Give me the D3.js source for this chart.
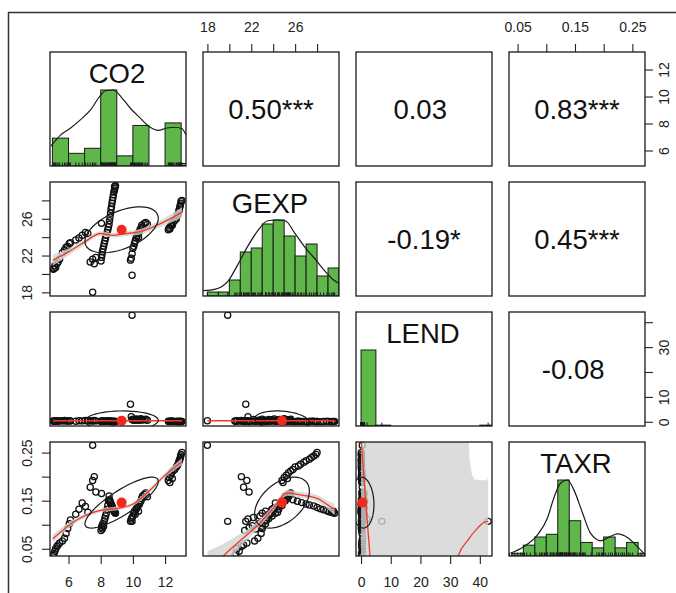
<!DOCTYPE html>
<html>
<head>
<meta charset="utf-8">
<script src="https://cdn.jsdelivr.net/npm/d3@7"></script>
<style>
  body { margin: 0; background: #fff; }
  svg text { font-family: "Liberation Sans", Arial, sans-serif; }
</style>
</head>
<body>
<svg id="chart" width="676" height="593"></svg>
<script>
// ---- data ----
var names = ["CO2", "GEXP", "LEND", "TAXR"];

var co2 = [5.05, 5.10, 5.15, 5.20, 5.28, 5.35, 5.45, 5.62, 5.75, 5.85, 5.95, 6.05, 6.12, 6.45, 6.65, 6.85, 7.05, 7.20,
  7.35, 7.50, 7.60, 7.70, 7.50,
  8.02, 8.05, 8.08, 8.10, 8.14, 8.18, 8.22, 8.26, 8.30, 8.35, 8.40, 8.44, 8.48, 8.52, 8.05,
  8.55, 8.58, 8.61, 8.64, 8.67, 8.70, 8.73, 8.76, 8.79, 8.82, 8.85, 8.87, 8.89, 8.92, 8.86,
  9.85, 9.90, 9.95, 9.95, 10.00, 10.05, 10.10, 10.15, 10.20, 10.25, 10.30, 10.35, 10.40, 10.45, 10.50, 10.55, 10.60, 10.70, 10.80, 10.90,
  12.20, 12.25, 12.30, 12.35, 12.40, 12.45, 12.50, 12.60, 12.70, 12.75, 12.80, 12.85, 12.88, 12.92, 12.95, 12.97, 12.99, 13.05];
var gexp = [20.5, 20.6, 20.9, 20.7, 21.1, 21.3, 21.6, 22.3, 22.6, 22.9, 23.0, 23.3, 23.4, 23.7, 23.9, 24.2, 24.5, 24.4,
  21.3, 21.6, 21.1, 21.8, 18.0,
  21.4, 21.8, 22.1, 22.4, 22.7, 23.0, 23.3, 23.6, 23.9, 24.2, 24.5, 24.8, 25.1, 25.4, 25.5,
  25.8, 26.2, 26.6, 27.0, 27.3, 27.7, 28.0, 28.3, 28.6, 28.9, 29.1, 29.3, 29.45, 29.6, 29.5,
  21.5, 21.7, 19.85, 22.2, 22.8, 23.0, 23.3, 23.6, 23.9, 24.1, 24.4, 24.0, 24.6, 24.8, 25.0, 25.3, 25.1, 25.5, 25.6, 25.4,
  24.8, 25.0, 24.9, 25.2, 25.4, 25.3, 25.6, 25.8, 26.0, 26.3, 26.5, 26.8, 27.0, 27.3, 27.5, 27.7, 27.9, 28.0];
var lend = [0.30, 0.15, 0.35, 0.45, 0.25, 0.20, 0.40, 0.30, 0.50, 0.35, 0.25, 0.45, 0.30, 0.20, 0.40, 0.35, 0.50, 0.30,
  0.40, 0.30, 0.55, 0.35, 0.40,
  0.20, 0.10, 0.25, 0.15, 0.30, 0.20, 0.10, 0.25, 0.35, 0.20, 0.15, 0.30, 0.25, 0.40, 0.30,
  0.10, 0.20, 0.15, 0.05, 0.10, 0.20, 0.15, 0.05, 0.10, 0.20, 0.15, 0.05, 0.10, 0.15, 0.05,
  7.0, 2.0, 42.8, 0.90, 0.70, 1.00, 0.60, 0.90, 0.80, 1.10, 0.70, 0.60, 0.90, 0.80, 1.20, 0.70, 0.90, 0.80, 1.00, 0.60,
  0.20, 0.10, 0.25, 0.15, 0.30, 0.10, 0.20, 0.15, 0.05, 0.20, 0.10, 0.15, 0.05, 0.10, 0.20, 0.15, 0.05, 0.10];
var taxr = [0.036, 0.040, 0.045, 0.050, 0.055, 0.058, 0.062, 0.066, 0.072, 0.082, 0.092, 0.102, 0.110, 0.122, 0.132, 0.145, 0.138, 0.126,
  0.178, 0.192, 0.200, 0.168, 0.265,
  0.088, 0.094, 0.098, 0.091, 0.102, 0.097, 0.108, 0.113, 0.118, 0.124, 0.132, 0.140, 0.150, 0.160, 0.165,
  0.152, 0.149, 0.146, 0.143, 0.141, 0.139, 0.136, 0.133, 0.131, 0.129, 0.127, 0.126, 0.125, 0.124, 0.128,
  0.107, 0.112, 0.107, 0.115, 0.118, 0.124, 0.128, 0.122, 0.132, 0.135, 0.138, 0.128, 0.142, 0.147, 0.150, 0.155, 0.160, 0.163, 0.166, 0.158,
  0.192, 0.198, 0.188, 0.203, 0.208, 0.196, 0.212, 0.215, 0.220, 0.222, 0.226, 0.230, 0.233, 0.236, 0.240, 0.243, 0.246, 0.250];

var ranges = [[4.85, 13.3], [17.6, 30.0], [-1.7, 44.1], [0.035, 0.272]];
var means = [9.3, 24.8, 0.45, 0.146];
var sds = [2.28, 2.5, 3.9, 0.053];

// upper triangle: pairs, correlation, stars
var corrPairs = [[0, 1], [0, 2], [0, 3], [1, 2], [1, 3], [2, 3]];
var corrValues = [0.50, 0.03, 0.83, -0.19, 0.45, -0.08];
var corrStars = ["***", " ", "***", "*", "***", " "];

// histograms: first break, bin width, counts
var histStart = [5, 18, 0, 0.04];
var histWidth = [1, 1, 5, 0.02];
var co2Counts = [11, 5, 7, 30, 4, 16, 0, 17, 1];
var gexpCounts = [1, 1, 4, 11, 12, 18, 19, 15, 10, 13, 5, 7];
var lendCounts = [89, 1, 0, 0, 0, 0, 0, 0, 1];
var taxrCounts = [1, 4, 7, 8, 28, 13, 5, 3, 7, 3, 5, 1];

// density curves (scaled to max 1)
var co2Dens = [[4.9, 0.26], [5.52, 0.41], [6.13, 0.5], [6.75, 0.61], [7.37, 0.74], [7.99, 0.93], [8.3, 0.99], [8.79, 1.0],
  [9.34, 0.89], [9.84, 0.76], [10.46, 0.63], [11.07, 0.51], [11.57, 0.47], [12.12, 0.5], [12.62, 0.51], [13.05, 0.49], [13.3, 0.41]];
var gexpDens = [[17.64, 0.07], [18.73, 0.09], [19.9, 0.2], [20.8, 0.42], [21.7, 0.66], [22.6, 0.86], [23.5, 0.99], [24.4, 1.0],
  [25.1, 0.99], [26.0, 0.82], [26.9, 0.64], [27.8, 0.49], [28.7, 0.33], [29.6, 0.2], [30.1, 0.16]];
var taxrDens = [[0.038, 0.04], [0.06, 0.12], [0.085, 0.28], [0.102, 0.5], [0.113, 0.76], [0.125, 0.96], [0.137, 1.0], [0.148, 0.87],
  [0.163, 0.57], [0.177, 0.3], [0.195, 0.2], [0.212, 0.26], [0.224, 0.29], [0.242, 0.24], [0.259, 0.12], [0.273, 0.01]];

// loess smoothers: [x, fit, band half width]
var smoothCo2Gexp = [[5.02, 21.5, 0.6], [5.95, 22.35, 0.4], [6.94, 23.4, 0.3], [8.0, 24.4, 0.25], [8.8, 24.2, 0.25],
  [9.65, 24.4, 0.28], [10.46, 24.6, 0.3], [11.5, 25.3, 0.35], [13.05, 26.7, 0.55]];
var smoothCo2Lend = [[5.05, 0.4, 0], [13.05, 0.4, 0]];
var smoothGexpLend = [[18.0, 0.4, 0], [29.6, 0.4, 0]];
var smoothCo2Taxr = [[5.02, 0.071, 0.008], [6.57, 0.111, 0.005], [8.0, 0.13, 0.004], [9.04, 0.134, 0.004], [10.02, 0.143, 0.004],
  [11.07, 0.172, 0.005], [11.87, 0.199, 0.005], [13.05, 0.231, 0.007]];
var smoothGexpTaxr = [[18.0, 0.0, 0.045], [19.45, 0.035, 0.025], [21.0, 0.067, 0.014], [22.55, 0.098, 0.008], [24.0, 0.134, 0.006],
  [25.27, 0.166, 0.006], [26.45, 0.162, 0.006], [28.0, 0.155, 0.007], [29.45, 0.134, 0.011], [29.6, 0.132, 0.012]];
var smoothLendTaxr = [[0, 0.28, 0], [1.5, 0.155, 0], [3.2, 0.02, 0], [10, -0.3, 0], [20, -0.45, 0], [28, -0.2, 0],
  [32.6, 0.033, 0], [36, 0.068, 0], [39.4, 0.094, 0], [41.7, 0.106, 0], [42.8, 0.107, 0]];
var bandLendTaxr = [[0, -0.1], [0, 0.35], [36.0, 0.35], [36.5, 0.24], [37.3, 0.205], [38.2, 0.194], [41.5, 0.192],
  [42.8, 0.195], [42.8, -0.1]];

// axis ticks and which of them carry labels
var gexpTicks = [18, 20, 22, 24, 26, 28], gexpLabels = [18, 22, 26];
var taxrTicks = [0.05, 0.10, 0.15, 0.20, 0.25], taxrLabels = [0.05, 0.15, 0.25];
var co2Ticks = [6, 8, 10, 12], co2Labels = [6, 8, 10, 12];
var lendTicks = [0, 10, 20, 30, 40], lendRightLabels = [0, 10, 30], lendBottomLabels = [0, 10, 20, 30, 40];

// ---- drawing ----
var svg = d3.select("#chart");
var data = [co2, gexp, lend, taxr];
var counts = [co2Counts, gexpCounts, lendCounts, taxrCounts];
var dens = [co2Dens, gexpDens, null, taxrDens];
var smooths = {"1-0": smoothCo2Gexp, "2-0": smoothCo2Lend, "2-1": smoothGexpLend,
  "3-0": smoothCo2Taxr, "3-1": smoothGexpTaxr, "3-2": smoothLendTaxr};

var colX = [50, 203, 356, 509], rowY = [52, 182, 312, 442];
var pw = 136, ph = 114;
var ink = "#1a1a1a", green = "#5fb749", red = "#f0281e", lineRed = "#ee3b24";

var sx = ranges.map(function(r) { return d3.scaleLinear().domain(r).range([0, pw]); });
var sy = ranges.map(function(r) { return d3.scaleLinear().domain(r).range([ph, 0]); });
var hy = d3.scaleLinear().domain([0, 1.5]).range([ph, 0]);

// frame of the figure
svg.append("line").attr("x1", 8).attr("x2", 676).attr("y1", 12.5).attr("y2", 12.5).attr("stroke", "#333").attr("stroke-width", 1.5);
svg.append("line").attr("x1", 8.5).attr("x2", 8.5).attr("y1", 12).attr("y2", 593).attr("stroke", "#333").attr("stroke-width", 1.5);

var defs = svg.append("defs");

function ellipsePts(xm, ym, xs, ys, r) {
  var t = Math.abs(r) > 0 ? Math.sign(r) / Math.SQRT2 : 1 / Math.SQRT2;
  var a = Math.sqrt(1 + r) * t, b = Math.sqrt(1 - r) * t;
  return d3.range(52).map(function(k) {
    var ang = k * 2 * Math.PI / 51, c = Math.cos(ang), s = Math.sin(ang);
    return [(c * a - s * b) * xs + xm, (c * a + s * b) * ys + ym];
  });
}

function corrIndex(i, j) {
  var a = Math.min(i, j), b = Math.max(i, j);
  for (var k = 0; k < corrPairs.length; k++) if (corrPairs[k][0] == a && corrPairs[k][1] == b) return k;
}

for (var i = 0; i < 4; i++) {
  for (var j = 0; j < 4; j++) {
    var id = "clip-" + i + "-" + j;
    defs.append("clipPath").attr("id", id).append("rect").attr("width", pw).attr("height", ph);
    var g = svg.append("g").attr("transform", "translate(" + colX[j] + "," + rowY[i] + ")");
    var inner = g.append("g").attr("clip-path", "url(#" + id + ")");
    var X = sx[j], Y = sy[i];

    if (i == j) {
      // histogram
      var cnt = counts[i], mx = d3.max(cnt);
      inner.selectAll("rect.bar").data(cnt).enter().append("rect")
        .attr("class", "bar")
        .attr("x", function(d, k) { return X(histStart[i] + k * histWidth[i]); })
        .attr("width", function(d, k) { return X(histStart[i] + (k + 1) * histWidth[i]) - X(histStart[i] + k * histWidth[i]); })
        .attr("y", function(d) { return hy(d / mx); })
        .attr("height", function(d) { return ph - hy(d / mx); })
        .attr("fill", green).attr("stroke", ink).attr("stroke-width", 1);
      if (dens[i]) {
        inner.append("path").datum(dens[i])
          .attr("d", d3.line().x(function(d) { return X(d[0]); }).y(function(d) { return hy(d[1]); }).curve(d3.curveMonotoneX))
          .attr("fill", "none").attr("stroke", ink).attr("stroke-width", 1.2);
      }
      // rug
      inner.selectAll("line.rug").data(data[i]).enter().append("line")
        .attr("x1", function(d) { return X(d); }).attr("x2", function(d) { return X(d); })
        .attr("y1", ph).attr("y2", ph - 3.5)
        .attr("stroke", ink).attr("stroke-width", 1);
      g.append("text").attr("x", pw / 2 - 1).attr("y", 31).attr("text-anchor", "middle")
        .attr("font-size", 27.5).attr("fill", "#111").text(names[i]);
    } else if (i < j) {
      var k = corrIndex(i, j);
      g.append("text").attr("x", pw / 2).attr("y", ph / 2 + 10).attr("text-anchor", "middle")
        .attr("font-size", 27.5).attr("fill", "#111").style("white-space", "pre")
        .text(corrValues[k].toFixed(2) + corrStars[k]);
    } else {
      var xs = data[j], ys = data[i];
      inner.selectAll("circle.pt").data(xs).enter().append("circle")
        .attr("class", "pt")
        .attr("cx", function(d) { return X(d); })
        .attr("cy", function(d, n) { return Y(ys[n]); })
        .attr("r", 3.1).attr("fill", "none").attr("stroke", "#111").attr("stroke-width", 1.25);

      var sm = smooths[i + "-" + j];
      if (i == 3 && j == 2) {
        inner.append("path").datum(bandLendTaxr)
          .attr("d", d3.line().x(function(d) { return X(d[0]); }).y(function(d) { return Y(d[1]); }))
          .attr("fill", "#d3d3d3").attr("fill-opacity", 0.8);
      } else if (d3.max(sm, function(d) { return d[2]; }) > 0) {
        inner.append("path").datum(sm)
          .attr("d", d3.area().x(function(d) { return X(d[0]); })
            .y0(function(d) { return Y(d[1] - d[2]); }).y1(function(d) { return Y(d[1] + d[2]); })
            .curve(d3.curveMonotoneX))
          .attr("fill", "#d3d3d3").attr("fill-opacity", 0.8);
      }
      inner.append("path").datum(sm)
        .attr("d", d3.line().x(function(d) { return X(d[0]); }).y(function(d) { return Y(d[1]); }).curve(d3.curveMonotoneX))
        .attr("fill", "none").attr("stroke", lineRed).attr("stroke-width", 1.3);

      var r = corrValues[corrIndex(i, j)];
      inner.append("path").datum(ellipsePts(means[j], means[i], sds[j], sds[i], r))
        .attr("d", d3.line().x(function(d) { return X(d[0]); }).y(function(d) { return Y(d[1]); }))
        .attr("fill", "none").attr("stroke", ink).attr("stroke-width", 1.2);
      inner.append("circle").attr("cx", X(means[j])).attr("cy", Y(means[i])).attr("r", 5).attr("fill", red);
    }

    g.append("rect").attr("width", pw).attr("height", ph)
      .attr("fill", "none").attr("stroke", ink).attr("stroke-width", 1.3);
  }
}

// axes
function styleAxis(a) {
  a.select(".domain").remove();
  a.attr("font-size", 14).attr("font-family", "Liberation Sans, Arial, sans-serif").attr("color", "#222");
  a.selectAll("line").attr("stroke-width", 1.1);
}
function labelFmt(labels, fmt) {
  return function(d) { return labels.indexOf(d) >= 0 ? fmt(d) : ""; };
}
var fInt = d3.format("d"), f2 = d3.format(".2f");

function topAxis(col, ticks, labels, fmt) {
  var a = svg.append("g").attr("transform", "translate(" + colX[col] + "," + rowY[0] + ")")
    .call(d3.axisTop(sx[col]).tickValues(ticks).tickSize(8).tickFormat(labelFmt(labels, fmt)));
  styleAxis(a);
  a.selectAll("text").attr("y", -20).attr("dy", 0);
}
function bottomAxis(col, ticks, labels, fmt) {
  var a = svg.append("g").attr("transform", "translate(" + colX[col] + "," + (rowY[3] + ph) + ")")
    .call(d3.axisBottom(sx[col]).tickValues(ticks).tickSize(8).tickFormat(labelFmt(labels, fmt)));
  styleAxis(a);
  a.selectAll("text").attr("y", 31).attr("dy", 0);
}
function leftAxis(row, ticks, labels, fmt) {
  var a = svg.append("g").attr("transform", "translate(" + colX[0] + "," + rowY[row] + ")")
    .call(d3.axisLeft(sy[row]).tickValues(ticks).tickSize(8).tickFormat(labelFmt(labels, fmt)));
  styleAxis(a);
  a.selectAll("text").attr("x", 0).attr("dy", 0).attr("text-anchor", "middle")
    .attr("transform", "translate(-18,0) rotate(-90)");
}
function rightAxis(row, ticks, labels, fmt) {
  var a = svg.append("g").attr("transform", "translate(" + (colX[3] + pw) + "," + rowY[row] + ")")
    .call(d3.axisRight(sy[row]).tickValues(ticks).tickSize(8).tickFormat(labelFmt(labels, fmt)));
  styleAxis(a);
  a.selectAll("text").attr("x", 0).attr("dy", 0).attr("text-anchor", "middle")
    .attr("transform", "translate(24,0) rotate(-90)");
}

topAxis(1, gexpTicks, gexpLabels, fInt);
topAxis(3, taxrTicks, taxrLabels, f2);
rightAxis(0, co2Ticks, co2Labels, fInt);
rightAxis(2, lendTicks, lendRightLabels, fInt);
leftAxis(1, gexpTicks, gexpLabels, fInt);
leftAxis(3, taxrTicks, taxrLabels, f2);
bottomAxis(0, co2Ticks, co2Labels, fInt);
bottomAxis(2, lendTicks, lendBottomLabels, fInt);
</script>
</body>
</html>
